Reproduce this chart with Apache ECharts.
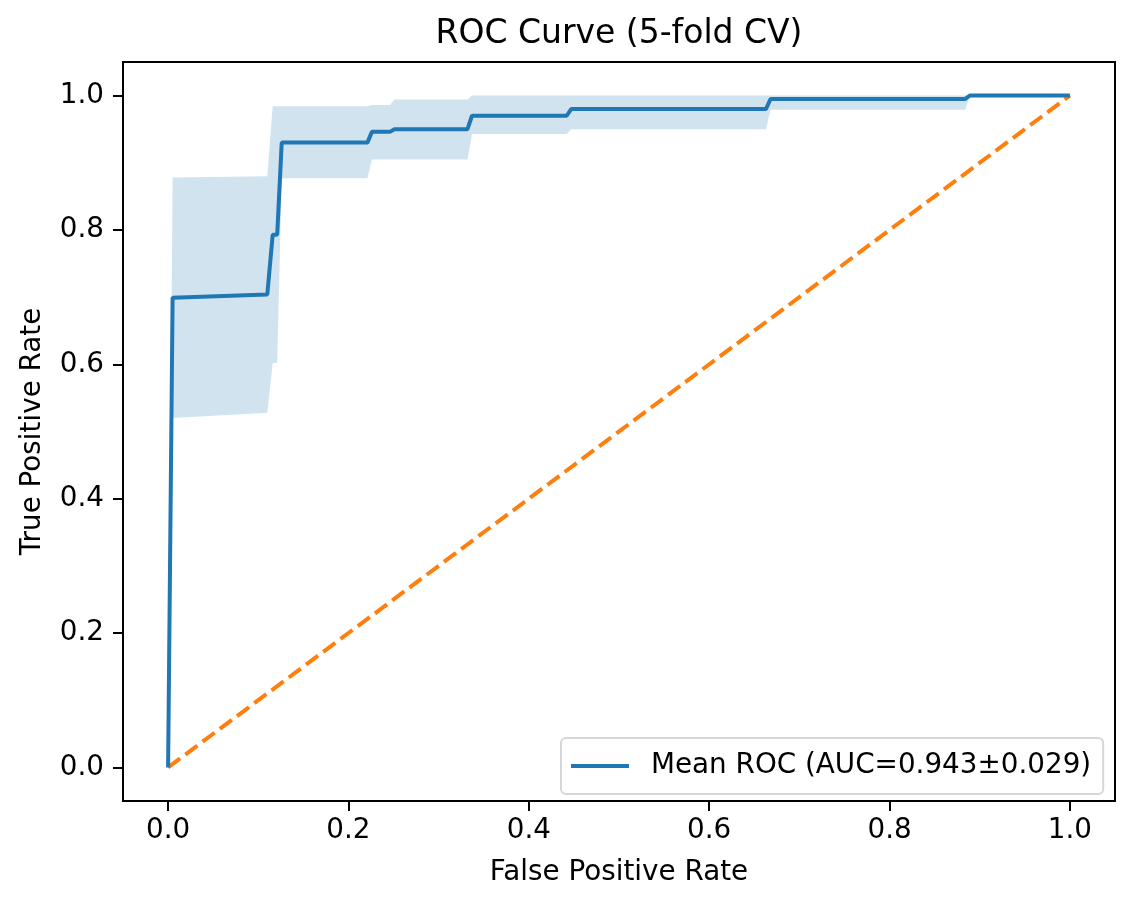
<!DOCTYPE html>
<html><head><meta charset="utf-8">
<script src="https://cdn.jsdelivr.net/npm/echarts@6/dist/echarts.min.js"></script>
<style>html,body{margin:0;padding:0;background:#fff}#c{width:1134px;height:908px}</style>
</head><body><div id="c"></div>
<script>
// Data
const fpr      = [0, 0.005, 0.110, 0.116, 0.121, 0.126, 0.221, 0.226, 0.246, 0.251, 0.332, 0.337, 0.442, 0.447, 0.663, 0.668, 0.884, 0.889, 1.0];
const meanTpr  = [0, 0.699, 0.704, 0.793, 0.793, 0.930, 0.930, 0.946, 0.946, 0.950, 0.950, 0.970, 0.970, 0.980, 0.980, 0.995, 0.995, 1.000, 1.000];
const lowerTpr = [0, 0.520, 0.528, 0.602, 0.602, 0.877, 0.877, 0.905, 0.905, 0.905, 0.905, 0.943, 0.943, 0.950, 0.950, 0.979, 0.979, 1.000, 1.000];
const upperTpr = [0, 0.878, 0.880, 0.984, 0.984, 0.984, 0.984, 0.986, 0.986, 0.994, 0.994, 1.000, 1.000, 1.000, 1.000, 1.000, 1.000, 1.000, 1.000];
const diagX = [0, 1];
const diagY = [0, 1];
const xTicks = [0, 0.2, 0.4, 0.6, 0.8, 1.0];
const yTicks = [0, 0.2, 0.4, 0.6, 0.8, 1.0];
const titleText = 'ROC Curve (5-fold CV)';
const xName = 'False Positive Rate';
const yName = 'True Positive Rate';
const legendLabel = 'Mean ROC (AUC=0.943\u00b10.029)';

const FONT = 'DejaVu Sans';
const pair = (xs, ys) => xs.map((x, i) => [x, ys[i]]);

const chart = echarts.init(document.getElementById('c'), null, {renderer: 'canvas'});
chart.setOption({
  animation: false,
  backgroundColor: '#fff',
  title: {
    text: titleText, left: 619, top: 18, textAlign: 'center', padding: 0,
    textStyle: {fontFamily: FONT, fontSize: 33, fontWeight: 'normal', color: '#000'}
  },
  legend: {
    data: [legendLabel],
    left: 561, top: 738,
    padding: [14, 12, 14, 10],
    itemWidth: 58, itemHeight: 4, icon: 'rect',
    borderColor: '#d6d6d6', borderWidth: 2, borderRadius: 5,
    backgroundColor: 'rgba(255,255,255,0.8)',
    textStyle: {fontFamily: FONT, fontSize: 27.8, color: '#000', padding: [0, 0, 0, 17]}
  },
  grid: {
    left: 123, right: 19, top: 62, bottom: 107,
    show: true, borderColor: '#000', borderWidth: 2, backgroundColor: 'transparent'
  },
  xAxis: {
    type: 'value', min: -0.05, max: 1.05,
    name: xName, nameLocation: 'middle', nameGap: 58,
    nameTextStyle: {fontFamily: FONT, fontSize: 27.8, color: '#000'},
    axisLine: {show: false, onZero: false},
    splitLine: {show: false},
    axisTick: {show: true, inside: false, length: 10, lineStyle: {color: '#000', width: 2}, customValues: xTicks},
    axisLabel: {margin: 16, fontFamily: FONT, fontSize: 27.8, color: '#000', customValues: xTicks,
      formatter: v => v.toFixed(1)}
  },
  yAxis: {
    type: 'value', min: -0.05, max: 1.05,
    name: yName, nameLocation: 'middle', nameGap: 76,
    nameTextStyle: {fontFamily: FONT, fontSize: 27.8, color: '#000'},
    axisLine: {show: false, onZero: false},
    splitLine: {show: false},
    axisTick: {show: true, inside: false, length: 10, lineStyle: {color: '#000', width: 2}, customValues: yTicks},
    axisLabel: {margin: 19, fontFamily: FONT, fontSize: 27.8, color: '#000', customValues: yTicks,
      formatter: v => v.toFixed(1)}
  },
  series: [
    {
      name: 'band', type: 'custom', silent: true, z: 1,
      data: [[0, 0]],
      renderItem: function (params, api) {
        const pts = [];
        for (let i = 0; i < fpr.length; i++) pts.push(api.coord([fpr[i], upperTpr[i]]));
        for (let i = fpr.length - 1; i >= 0; i--) pts.push(api.coord([fpr[i], lowerTpr[i]]));
        return {type: 'polygon', shape: {points: pts}, style: {fill: '#d2e3f0', stroke: null}};
      }
    },
    {
      name: 'diag', type: 'line', data: pair(diagX, diagY), symbol: 'none',
      lineStyle: {color: '#ff7f0e', width: 4, type: [15, 6.5]}, z: 2
    },
    {
      name: legendLabel, type: 'line', data: pair(fpr, meanTpr), symbol: 'none',
      color: '#1f77b4', lineStyle: {color: '#1f77b4', width: 4}, z: 3
    }
  ]
});
</script>
</body></html>
